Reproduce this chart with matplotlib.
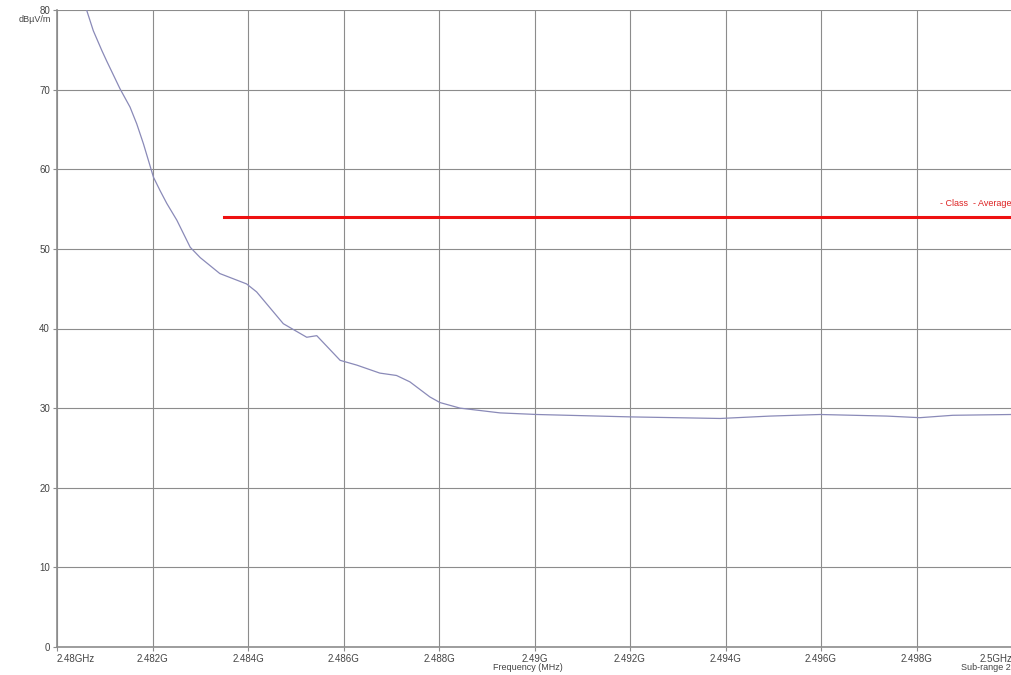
import numpy as np
import matplotlib.pyplot as plt

# Measured trace (frequency in GHz, level in dBuV/m)
freq_ghz = [2.4805, 2.48062, 2.48076, 2.48094, 2.48104, 2.48132, 2.48153, 2.48167,
            2.48181, 2.48202, 2.48216, 2.48230, 2.48251, 2.48279, 2.48300, 2.48341,
            2.48397, 2.48418, 2.48474, 2.48523, 2.48544, 2.48593, 2.48628, 2.48676,
            2.48711, 2.48739, 2.48781, 2.48802, 2.48844, 2.48928, 2.49005, 2.49200,
            2.49389, 2.49493, 2.49598, 2.49738, 2.49807, 2.49876, 2.50000]
level_dbuv = [82.3, 80.0, 77.4, 74.9, 73.6, 70.1, 67.8, 65.7,
              63.2, 59.0, 57.3, 55.7, 53.6, 50.2, 48.9, 46.9,
              45.6, 44.6, 40.6, 38.9, 39.1, 36.0, 35.4, 34.4,
              34.1, 33.3, 31.4, 30.7, 30.0, 29.4, 29.2, 28.9,
              28.7, 29.0, 29.2, 29.0, 28.8, 29.1, 29.2]

# Limit line
limit_freq = [2.4835, 2.5005]
limit_level = [54.0, 54.0]

x_ticks = [2.480, 2.482, 2.484, 2.486, 2.488, 2.490, 2.492, 2.494, 2.496, 2.498, 2.500]
x_labels = ['2.48GHz', '2.482G', '2.484G', '2.486G', '2.488G', '2.49G',
            '2.492G', '2.494G', '2.496G', '2.498G', '2.5GHz']
y_ticks = [0, 10, 20, 30, 40, 50, 60, 70, 80]

plt.rcParams['font.family'] = ['Liberation Sans', 'DejaVu Sans']

fig = plt.figure(figsize=(10.11, 6.75), dpi=100)
ax = fig.add_axes([57 / 1011, 28 / 675, 955 / 1011, 637 / 675])

ax.plot(freq_ghz, level_dbuv, color='#8a8ab8', lw=0.9, zorder=3)
ax.plot(limit_freq, limit_level, color='#ee1111', lw=2.2, zorder=4, clip_on=False)

ax.set_xlim(2.480, 2.500)
ax.set_ylim(0, 80)
ax.set_xticks(x_ticks)
ax.set_xticklabels(x_labels)
ax.set_yticks(y_ticks)
ax.grid(True, color='#8c8c8c', lw=0.8)
ax.set_axisbelow(True)

for side in ['top', 'right']:
    ax.spines[side].set_visible(False)
for side in ['left', 'bottom']:
    ax.spines[side].set_color('#8c8c8c')
    ax.spines[side].set_linewidth(1.2)

ax.tick_params(axis='both', length=3, color='#8c8c8c', labelsize=7, labelcolor='#444444', pad=2)
labels = ax.get_xticklabels()
labels[0].set_horizontalalignment('left')
labels[-1].set_horizontalalignment('right')

fig.text(35 / 1011, 1 - 19 / 675, 'dBµV/m', fontsize=6.5, color='#444444', ha='center', va='center')
fig.text(0.5225, 1 - 668 / 675, 'Frequency (MHz)', fontsize=6.5, color='#444444', ha='center', va='center')
fig.text(1.0, 1 - 668 / 675, 'Sub-range 2', fontsize=6.5, color='#444444', ha='right', va='center')
fig.text(1.0, 1 - 203 / 675, '- Class  - Average', fontsize=6.5, color='#dd2222', ha='right', va='center')

fig.savefig('out.png', dpi=100)
